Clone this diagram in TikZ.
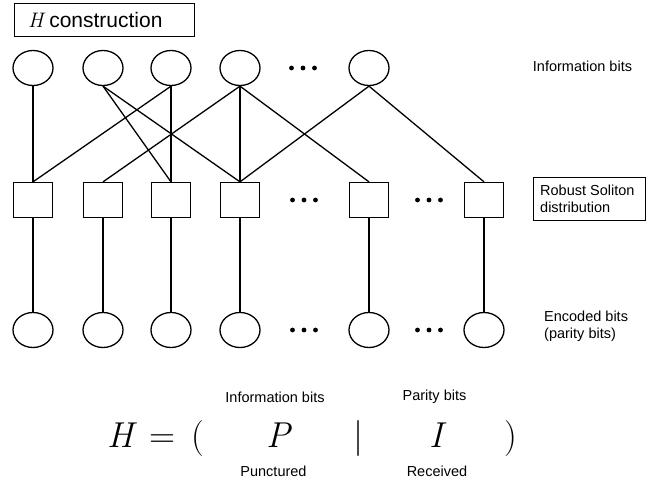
\documentclass[tikz,border=0pt]{standalone}
\usepackage{fontspec}
\setmainfont{Liberation Sans}
\newfontfamily\lmr{Latin Modern Roman}
\usetikzlibrary{shapes.geometric}
\tikzset{
  bit/.style={draw, ellipse, line width=1.3pt, minimum width=40pt, minimum height=35pt, inner sep=0pt},
  chk/.style={draw, rectangle, line width=1.3pt, minimum width=39pt, minimum height=35pt, inner sep=0pt},
  edge/.style={line width=1.3pt},
  lbl/.style={font=\fontsize{14.5}{16.5}\selectfont, inner sep=0pt},
  eq/.style={font=\lmr\fontsize{36}{40}\selectfont, inner sep=0pt, anchor=base}
}
\newcommand{\threedots}[2]{%
  \fill (#1-11.5,#2) circle (2.4pt);
  \fill (#1,#2) circle (2.4pt);
  \fill (#1+11.5,#2) circle (2.4pt);}
\begin{document}
\begin{tikzpicture}[x=1pt,y=-1pt]
\useasboundingbox (0,0) rectangle (657,483);
% title box
\node[draw, line width=0.8pt, minimum width=180pt, minimum height=33pt, inner sep=0pt] (title) at (104,19.5) {};
\node[font=\fontsize{21}{26}\selectfont, inner sep=0pt, anchor=west] (tt) at (28,19.5) {{\lmr\itshape H} construction};
% top row
\foreach \n/\x in {1/33,2/103,3/171,4/240,5/369}{
  \node[bit] (c\n) at (\x,68) {};
}
% check row
\foreach \n/\x in {1/33,2/103,3/171,4/240,5/369,6/484}{
  \node[chk] (s\n) at (\x,200) {};
  \node[bit] (e\n) at (\x,330) {};
  \draw[edge] (s\n.south) -- (e\n.north);
}
\threedots{303}{68}
\threedots{304}{200}
\threedots{429}{200}
\threedots{304}{330}
\threedots{429}{330}
% edges
\foreach \a/\b in {1/1,2/3,2/4,3/1,3/3,4/2,4/4,4/5,5/4,5/6}{
  \draw[edge] (c\a.south) -- (s\b.north);
}
% right labels
\node[lbl] (l1) at (582.5,66) {Information bits};
\node[draw, line width=0.8pt, minimum width=112pt, minimum height=43pt, inner sep=0pt] (rbox) at (589,198.5) {};
\node[lbl, anchor=west, align=left] (l2) at (540,199) {Robust Soliton\\distribution};
\node[lbl, anchor=west, align=left] (l3) at (544,326) {Encoded bits\\(parity bits)};
% equation
\node[eq] (eH) at (121,447) {\itshape H};
\node[eq] (eeq) at (162,447) {=};
\node[eq] (elp) at (197.5,447) {(};
\node[eq] (eP) at (278,447) {\itshape P};
\node[eq] (ebar) at (358.5,447) {|};
\node[eq] (eI) at (436,447) {\itshape I};
\node[eq] (erp) at (511,447) {)};
\node[lbl] (li) at (275,397) {Information bits};
\node[lbl] (lp) at (434.5,397) {Parity bits};
\node[lbl] (lpu) at (273.5,471) {Punctured};
\node[lbl] (lr) at (437,471) {Received};
\end{tikzpicture}
\end{document}
